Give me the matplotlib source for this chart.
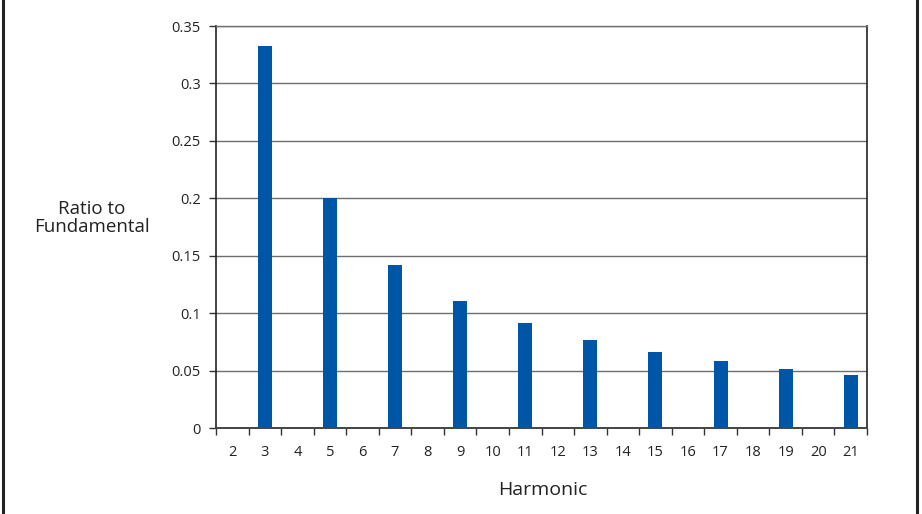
import numpy as np
import matplotlib.pyplot as plt
from matplotlib.lines import Line2D
from matplotlib.ticker import FixedLocator

plt.rcParams['font.family'] = ['Open Sans', 'DejaVu Sans']

# harmonic number and ratio to fundamental
harmonics = list(range(2, 22))
ratios = [0, 0.333, 0, 0.2, 0, 0.142, 0, 0.111, 0, 0.091,
          0, 0.077, 0, 0.066, 0, 0.058, 0, 0.051, 0, 0.046]
yticks = [0, 0.05, 0.1, 0.15, 0.2, 0.25, 0.3, 0.35]
ytick_labels = ['0', '0.05', '0.1', '0.15', '0.2', '0.25', '0.3', '0.35']

fig = plt.figure(figsize=(9.22, 5.14), dpi=100)
ax = fig.add_axes([216/922, 1-428/514, 651/922, 402/514])

ax.bar(harmonics, ratios, width=0.43, color='#0056a6', zorder=3)

ax.set_xlim(1.5, 21.5)
ax.set_ylim(0, 0.35)
ax.set_yticks(yticks)
ax.set_yticklabels(ytick_labels)
ax.yaxis.grid(True, color='#6e6e6e', linewidth=1.0, zorder=0)

# ticks between the categories, labels in the middle
ax.xaxis.set_major_locator(FixedLocator(np.arange(1.5, 22, 1)))
ax.xaxis.set_minor_locator(FixedLocator(harmonics))
ax.set_xticklabels([])
ax.set_xticklabels([str(h) for h in harmonics], minor=True)
ax.tick_params(axis='x', which='major', length=5, width=1, color='#333333', direction='out')
ax.tick_params(axis='x', which='minor', length=0, pad=12, labelsize=10.5, labelcolor='#222222')
ax.tick_params(axis='y', length=5, width=1, color='#333333', pad=6, labelsize=10.5, labelcolor='#222222')

for s in ['left', 'right']:
    ax.spines[s].set_color('#222222')
    ax.spines[s].set_linewidth(1.2)
ax.spines['bottom'].set_color('#444444')
ax.spines['bottom'].set_linewidth(1.4)
ax.spines['top'].set_color('#6e6e6e')
ax.spines['top'].set_linewidth(1.0)

fig.text(92/922, 1-218/514, 'Ratio to\nFundamental', ha='center', va='center',
         fontsize=13.5, color='#222222', linespacing=1.05)
fig.text(543/922, 1-490/514, 'Harmonic', ha='center', va='center',
         fontsize=14, color='#222222')

# page border lines
fig.add_artist(Line2D([3/922, 3/922], [0, 1], color='#222222', linewidth=2.2))
fig.add_artist(Line2D([917/922, 917/922], [0, 1], color='#222222', linewidth=2.2))

fig.savefig('out.png', dpi=100)
